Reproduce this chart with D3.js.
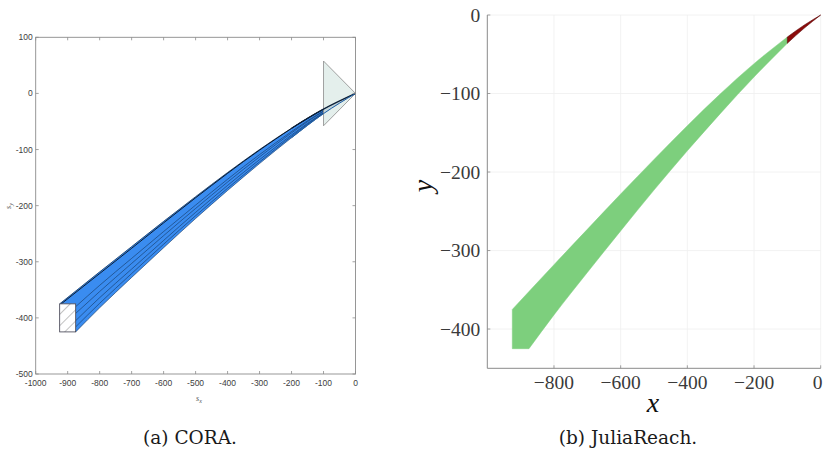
<!DOCTYPE html>
<html><head><meta charset="utf-8">
<script src="https://cdn.jsdelivr.net/npm/d3@7"></script>
<style>html,body{margin:0;padding:0;background:#fff}svg{display:block}</style>
</head><body>
<svg id="c" width="823" height="458"></svg>
<script>
// ---------- data ----------
const initBox = {x0: -925, x1: -875, y0: -425, y1: -375};
// trajectory of the upper-left corner of the initial box
const upperEdge = [[-925,-375],[-800,-318],[-700,-273],[-600,-228],[-500,-184],[-400,-141],[-300,-100],[-200,-62],[-100,-28],[0,0]];
// trajectory of the lower-right corner of the initial box
const lowerEdge = [[-875,-425],[-800,-382],[-700,-328],[-600,-275],[-500,-223],[-400,-173],[-300,-125],[-200,-79],[-100,-36],[0,0]];
// inner edges of the CORA zonotope sweep
const innerEdges = [
  [[-920,-375],[-800,-321],[-700,-276],[-500,-186],[-300,-101],[-100,-28],[0,0]],
  [[-875,-380],[-800,-342],[-700,-294],[-500,-199],[-300,-109],[-100,-31],[0,0]],
  [[-875,-392],[-800,-353],[-700,-303],[-500,-205],[-300,-113],[-100,-32],[0,0]],
  [[-875,-405],[-800,-364],[-700,-313],[-500,-212],[-300,-118],[-100,-34],[0,0]],
  [[-875,-416],[-800,-374],[-700,-321],[-500,-218],[-300,-122],[-100,-35],[0,0]]
];
// line-of-sight cone (target region)
const losCone = [[-100,57.7],[0,0],[-100,-57.7]];
// JuliaReach: green part ends at x=-100, red part from -100 to 0
const redUpper = [[-100,-28],[-50,-13],[0,0]];
const redLower = [[-100,-36],[-50,-17],[0,0]];

const coraXTicks = [-1000,-900,-800,-700,-600,-500,-400,-300,-200,-100,0];
const coraYTicks = [100,0,-100,-200,-300,-400,-500];
const jrXTicks = [-800,-600,-400,-200,0];
const jrYTicks = [0,-100,-200,-300,-400];
const captions = ["(a) CORA.", "(b) JuliaReach."];

const svg = d3.select("#c");

// ---------- left: CORA ----------
const xL = d3.scaleLinear().domain([-1000,0]).range([35.7,355.5]);
const yL = d3.scaleLinear().domain([-500,100]).range([374,37.3]);
const gL = svg.append("g");

const defs = svg.append("defs");
const pat = defs.append("pattern").attr("id","hatch").attr("patternUnits","userSpaceOnUse")
  .attr("width",8).attr("height",8).attr("patternTransform","rotate(45)");
pat.append("rect").attr("width",8).attr("height",8).attr("fill","#fff");
pat.append("line").attr("x1",0).attr("y1",0).attr("x2",0).attr("y2",8).attr("stroke","#333").attr("stroke-width",0.6);

const lineL = d3.line().x(d=>xL(d[0])).y(d=>yL(d[1])).curve(d3.curveMonotoneX);

// blue sweep polygon
const bluePath = lineL(upperEdge) + "L" + lineL(lowerEdge.slice().reverse()).slice(1)
  + "L" + xL(initBox.x1) + "," + yL(initBox.y1) + "Z";
gL.append("path").attr("d", bluePath).attr("fill","#3a8cf0").attr("stroke","none");
gL.append("path").attr("d", lineL(upperEdge)).attr("fill","none").attr("stroke","#14365e").attr("stroke-width",0.8);
gL.append("path").attr("d", lineL(lowerEdge)).attr("fill","none").attr("stroke","#14365e").attr("stroke-width",0.6);
innerEdges.forEach((e,i)=>{
  gL.append("path").attr("d", lineL(e)).attr("fill","none")
    .attr("stroke", i===0 ? "#000" : "#0f2d52").attr("stroke-width", i===0 ? 0.8 : 0.55);
});
// LOS cone
gL.append("path").attr("d", d3.line().x(d=>xL(d[0])).y(d=>yL(d[1]))(losCone) + "Z")
  .attr("fill","#dfece9").attr("fill-opacity",0.85).attr("stroke","#8a8a8a").attr("stroke-width",0.8);
// band tip drawn over the cone
gL.append("path").attr("d", lineL(upperEdge.slice(7))).attr("fill","none").attr("stroke","#0b1f38").attr("stroke-width",1.2);
gL.append("path").attr("d", lineL(lowerEdge.slice(7))).attr("fill","none").attr("stroke","#1d5fa8").attr("stroke-width",1.0);
// initial box
gL.append("rect").attr("x",xL(initBox.x0)).attr("y",yL(initBox.y1))
  .attr("width",xL(initBox.x1)-xL(initBox.x0)).attr("height",yL(initBox.y0)-yL(initBox.y1))
  .attr("fill","url(#hatch)").attr("stroke","#3a3a4a").attr("stroke-width",0.8);

// axes box
const axL = gL.append("g").attr("font-family","'Liberation Sans',Arial,sans-serif").attr("font-size",8.5).attr("fill","#404040");
const x0 = xL.range()[0], x1 = xL.range()[1], y0 = yL.range()[1], y1 = yL.range()[0];
axL.append("rect").attr("x",x0).attr("y",y0).attr("width",x1-x0).attr("height",y1-y0)
  .attr("fill","none").attr("stroke","#8c8c8c").attr("stroke-width",0.9);
coraXTicks.forEach(t=>{
  const px = xL(t);
  axL.append("line").attr("x1",px).attr("x2",px).attr("y1",y1).attr("y2",y1-3).attr("stroke","#8c8c8c").attr("stroke-width",0.8);
  axL.append("line").attr("x1",px).attr("x2",px).attr("y1",y0).attr("y2",y0+3).attr("stroke","#8c8c8c").attr("stroke-width",0.8);
  axL.append("text").attr("x",px).attr("y",y1+12).attr("text-anchor","middle").text(String(t));
});
coraYTicks.forEach(t=>{
  const py = yL(t);
  axL.append("line").attr("x1",x0).attr("x2",x0+3).attr("y1",py).attr("y2",py).attr("stroke","#8c8c8c").attr("stroke-width",0.8);
  axL.append("line").attr("x1",x1).attr("x2",x1-3).attr("y1",py).attr("y2",py).attr("stroke","#8c8c8c").attr("stroke-width",0.8);
  axL.append("text").attr("x",x0-3).attr("y",py+3).attr("text-anchor","end").text(String(t));
});
// axis labels
const sx = gL.append("text").attr("x",199).attr("y",401).attr("text-anchor","middle")
  .attr("font-family","'Liberation Serif',serif").attr("font-style","italic").attr("font-size",8).attr("fill","#555");
sx.append("tspan").text("s");
sx.append("tspan").attr("font-size",6).attr("dy",2).text("x");
const sy = gL.append("text").attr("transform","translate(11,206) rotate(-90)").attr("text-anchor","middle")
  .attr("font-family","'Liberation Serif',serif").attr("font-style","italic").attr("font-size",8).attr("fill","#555");
sy.append("tspan").text("s");
sy.append("tspan").attr("font-size",6).attr("dy",2).text("y");

// ---------- right: JuliaReach ----------
const xR = d3.scaleLinear().domain([-1000,0]).range([487.3,820.7]);
const yR = d3.scaleLinear().domain([-450,0]).range([368.3,15]);
const gR = svg.append("g");
const rx0 = xR.range()[0], rx1 = xR.range()[1], ry0 = yR.range()[1], ry1 = yR.range()[0];

jrXTicks.forEach(t=>{
  gR.append("line").attr("x1",xR(t)).attr("x2",xR(t)).attr("y1",ry0).attr("y2",ry1).attr("stroke","#efefef").attr("stroke-width",0.8);
});
jrYTicks.forEach(t=>{
  gR.append("line").attr("x1",rx0).attr("x2",rx1).attr("y1",yR(t)).attr("y2",yR(t)).attr("stroke","#efefef").attr("stroke-width",0.8);
});

const lineR = d3.line().x(d=>xR(d[0])).y(d=>yR(d[1])).curve(d3.curveMonotoneX);
const up = upperEdge.filter(d=>d[0] <= -100);
const lo = lowerEdge.filter(d=>d[0] <= -100);
const greenD = lineR(up) + "L" + lineR(lo.slice().reverse()).slice(1)
  + "L" + xR(initBox.x0) + "," + yR(initBox.y0) + "Z";
gR.append("path").attr("d", greenD).attr("fill","#7dcf7d").attr("stroke","#7dcf7d").attr("stroke-width",0.5);
const redD = lineR(redUpper) + "L" + lineR(redLower.slice().reverse()).slice(1) + "Z";
gR.append("path").attr("d", redD).attr("fill","#8b0a0a").attr("stroke","#5a0505").attr("stroke-width",0.6);

gR.append("line").attr("x1",rx0).attr("x2",rx0).attr("y1",ry0).attr("y2",ry1).attr("stroke","#8a8a8a").attr("stroke-width",1);
gR.append("line").attr("x1",rx0).attr("x2",rx1).attr("y1",ry1).attr("y2",ry1).attr("stroke","#8a8a8a").attr("stroke-width",1);
const fmt = t => t < 0 ? "\u2212" + Math.abs(t) : String(t);
const axR = gR.append("g").attr("font-family","'Liberation Serif','DejaVu Serif',serif").attr("font-size",19.5).attr("fill","#3a3a3a");
jrXTicks.forEach(t=>{
  gR.append("line").attr("x1",xR(t)).attr("x2",xR(t)).attr("y1",ry1).attr("y2",ry1-3).attr("stroke","#8a8a8a").attr("stroke-width",0.8);
  axR.append("text").attr("x", t === 0 ? 822.5 : xR(t)).attr("y",ry1+21)
    .attr("text-anchor", t === 0 ? "end" : "middle").text(fmt(t));
});
jrYTicks.forEach(t=>{
  gR.append("line").attr("x1",rx0).attr("x2",rx0+3).attr("y1",yR(t)).attr("y2",yR(t)).attr("stroke","#8a8a8a").attr("stroke-width",0.8);
  axR.append("text").attr("x",rx0-7).attr("y",yR(t)+6.5).attr("text-anchor","end").text(fmt(t));
});
gR.append("text").attr("x",653).attr("y",412).attr("text-anchor","middle")
  .attr("font-family","'Liberation Serif',serif").attr("font-style","italic").attr("font-size",28).attr("fill","#111").text("x");
gR.append("text").attr("transform","translate(432,186) rotate(-90)").attr("text-anchor","middle")
  .attr("font-family","'Liberation Serif',serif").attr("font-style","italic").attr("font-size",28).attr("fill","#111").text("y");

// ---------- captions ----------
svg.append("text").attr("x",190).attr("y",444).attr("text-anchor","middle")
  .attr("font-family","'DejaVu Serif',serif").attr("font-size",18.5).attr("fill","#1a1a1a").text(captions[0]);
svg.append("text").attr("x",628).attr("y",444).attr("text-anchor","middle")
  .attr("font-family","'DejaVu Serif',serif").attr("font-size",18.5).attr("fill","#1a1a1a").text(captions[1]);
</script>
</body></html>
